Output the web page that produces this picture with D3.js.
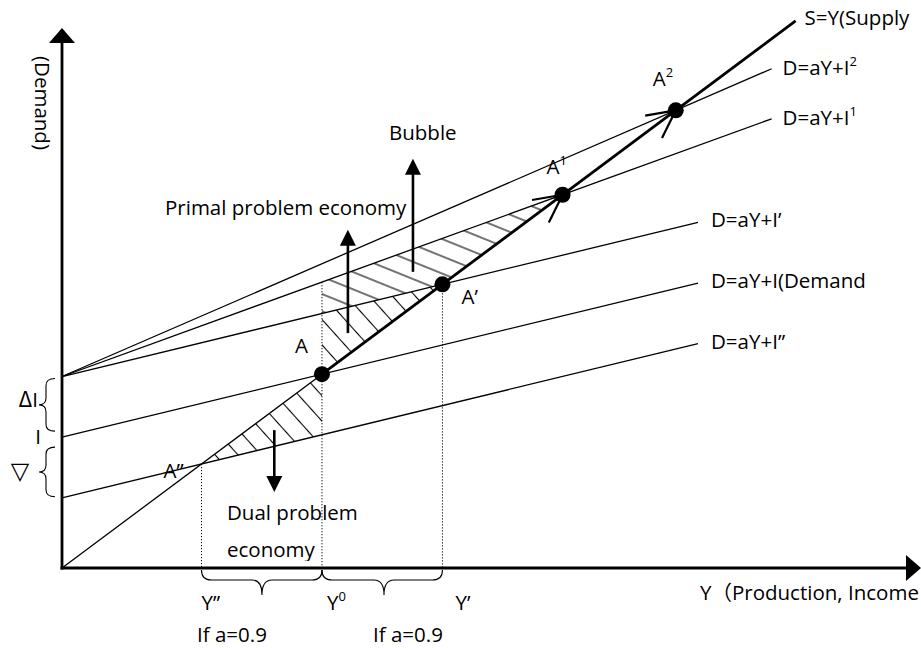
<!DOCTYPE html>
<html>
<head>
<meta charset="utf-8">
<script src="https://cdn.jsdelivr.net/npm/d3@7"></script>
<style>
  body { margin: 0; background: #fff; }
  text { font-family: "Open Sans", "Noto Sans CJK SC", sans-serif; font-size: 20.5px; fill: #000; }
</style>
</head>
<body>
<svg id="chart" width="921" height="648"></svg>
<script>
// demand lines D = a*Y + I, x (Y) and y (D) in the same units
var lineNames = ["D=aY+I\u201D", "D=aY+I(Demand", "D=aY+I\u2019", "D=aY+I", "D=aY+I"];
var lineSups = ["", "", "", "1", "2"];
var intercepts = [11, 20.5, 30, 30, 30];
var slopes = [0.325, 0.325, 0.325, 0.487, 0.5816];
var lineEnds = [74.3, 74.3, 74.3, 82.9, 82.9];
var supplyEnd = 85.7;

// equilibrium points (one per demand line)
var pointNames = ["A\u201D", "A", "A\u2019", "A", "A"];
var pointSups = ["", "", "", "1", "2"];
var pointDots = [false, true, true, true, true];

// income levels on the Y axis
var yLabels = ["Y\u201D", "Y", "Y\u2019"];
var ySups = ["", "0", ""];

// shift arrows (x, from, to)
var arrowX = [41.0, 33.4, 24.8];
var arrowFrom = [46.4, 36.8, 21.6];
var arrowTo = [64.1, 53.0, 11.9];

var svg = d3.select("#chart");
var x = d3.scaleLinear().domain([0, 100]).range([62, 918]);
var y = d3.scaleLinear().domain([0, 84.6]).range([568, 28]);

var eq = intercepts.map(function (I, i) { return I / (1 - slopes[i]); });
var Ypp = eq[0], Y0 = eq[1], Yp = eq[2], Y1 = eq[3];
function D(i, v) { return intercepts[i] + slopes[i] * v; }

// hatch patterns
var defs = svg.append("defs");
function hatch(id, angle, gap) {
    var p = defs.append("pattern").attr("id", id)
        .attr("patternUnits", "userSpaceOnUse")
        .attr("width", gap).attr("height", gap)
        .attr("patternTransform", "rotate(" + angle + ")");
    p.append("line")
        .attr("x1", gap / 2).attr("y1", -1).attr("x2", gap / 2).attr("y2", gap + 1)
        .attr("stroke", "#000").attr("stroke-width", 1.1);
}
hatch("steep", -42, 17);
hatch("flat", -68, 16);
defs.append("clipPath").attr("id", "cut")
    .append("rect").attr("x", 0).attr("y", 0).attr("width", 921).attr("height", 561);

var regions = [
    { fill: "flat", pts: [[Y0, D(3, Y0)], [Y1, Y1], [Yp, Yp], [Y0, D(2, Y0)]] },
    { fill: "steep", pts: [[Y0, D(2, Y0)], [Yp, Yp], [Y0, Y0]] },
    { fill: "steep", pts: [[Y0, Y0], [Y0, D(0, Y0)], [Ypp, Ypp]] }
];
svg.selectAll("polygon.hatch")
    .data(regions)
    .enter()
    .append("polygon")
    .attr("class", "hatch")
    .attr("points", function (d) { return d.pts.map(function (p) { return x(p[0]) + "," + y(p[1]); }).join(" "); })
    .attr("fill", function (d) { return "url(#" + d.fill + ")"; });

// dotted guides
var guides = [[Ypp, Ypp], [Y0, D(3, Y0)], [Yp, Yp]];
svg.selectAll("line.guide")
    .data(guides)
    .enter()
    .append("line")
    .attr("x1", function (d) { return x(d[0]); })
    .attr("x2", function (d) { return x(d[0]); })
    .attr("y1", function (d) { return y(d[1]); })
    .attr("y2", y(0))
    .attr("stroke", "#000").attr("stroke-width", 1).attr("stroke-dasharray", "1.2,1.8");

// demand lines
svg.selectAll("line.demand")
    .data(intercepts)
    .enter()
    .append("line")
    .attr("x1", x(0))
    .attr("y1", function (d) { return y(d); })
    .attr("x2", function (d, i) { return x(lineEnds[i]); })
    .attr("y2", function (d, i) { return y(D(i, lineEnds[i])); })
    .attr("stroke", "#000").attr("stroke-width", 1.3);

// supply line S=Y, thin below A, thick above
svg.append("line")
    .attr("x1", x(0)).attr("y1", y(0)).attr("x2", x(Y0)).attr("y2", y(Y0))
    .attr("stroke", "#000").attr("stroke-width", 1.3);
svg.append("line")
    .attr("x1", x(Y0)).attr("y1", y(Y0)).attr("x2", x(supplyEnd)).attr("y2", y(supplyEnd))
    .attr("stroke", "#000").attr("stroke-width", 2.8);

// open arrowheads on S at A1, A2
var ang = Math.atan2(y(10) - y(0), x(10) - x(0)) + Math.PI;
[Y1, eq[4]].forEach(function (v) {
    [-0.47, 0.47].forEach(function (s) {
        svg.append("line")
            .attr("x1", x(v)).attr("y1", y(v))
            .attr("x2", x(v) + 31 * Math.cos(ang + s))
            .attr("y2", y(v) + 31 * Math.sin(ang + s))
            .attr("stroke", "#000").attr("stroke-width", 2.2);
    });
});

// axes
svg.append("line").attr("x1", x(0)).attr("y1", y(0) + 1.5).attr("x2", x(0)).attr("y2", 40)
    .attr("stroke", "#000").attr("stroke-width", 2.8);
svg.append("polygon").attr("points", [[x(0), 28], [x(0) - 13, 43], [x(0) + 13, 43]].join(" "));
svg.append("line").attr("x1", x(0) - 1.5).attr("y1", y(0)).attr("x2", 908).attr("y2", y(0))
    .attr("stroke", "#000").attr("stroke-width", 2.8);
svg.append("polygon").attr("points", [[921, y(0)], [906, y(0) - 13], [906, y(0) + 13]].join(" "));

// equilibrium dots
svg.selectAll("circle.pt")
    .data(eq.filter(function (d, i) { return pointDots[i]; }))
    .enter()
    .append("circle")
    .attr("cx", function (d) { return x(d); })
    .attr("cy", function (d) { return y(d); })
    .attr("r", 8);

// shift arrows
arrowX.forEach(function (ax, i) {
    var px = x(ax), y0 = y(arrowFrom[i]), y1 = y(arrowTo[i]);
    var dir = y1 < y0 ? 1 : -1;
    svg.append("line").attr("x1", px).attr("x2", px).attr("y1", y0).attr("y2", y1 + dir * 14)
        .attr("stroke", "#000").attr("stroke-width", 2.6);
    svg.append("polygon").attr("points", [[px, y1], [px - 8, y1 + dir * 16], [px + 8, y1 + dir * 16]].join(" "));
});

// labels with optional superscript
function label(tx, ty, base, sup, anchor) {
    var t = svg.append("text").attr("x", tx).attr("y", ty).attr("text-anchor", anchor || "start");
    t.append("tspan").text(base);
    if (sup) t.append("tspan").attr("font-size", 13).attr("dy", -9).text(sup);
    return t;
}
lineNames.forEach(function (n, i) {
    var ex = lineEnds[i] < 80 ? 13 : 11;
    label(x(lineEnds[i]) + ex, y(D(i, lineEnds[i])) + (i > 2 ? 6 : 5), n, lineSups[i]);
});
label(x(supplyEnd) + 9, y(supplyEnd) + 4, "S=Y(Supply", "");

var pointOffsets = [[-38, 14], [-27, -21], [19, 20], [-16, -21], [-23, -24]];
pointNames.forEach(function (n, i) {
    label(x(eq[i]) + pointOffsets[i][0], y(eq[i]) + pointOffsets[i][1], n, pointSups[i]);
});

var yLabelShift = [0, 5, 13];
[Ypp, Y0, Yp].forEach(function (v, i) {
    label(x(v) + yLabelShift[i], 610, yLabels[i], ySups[i]);
});

// braces under the Y axis
function hBrace(x1, x2, xm, top) {
    var r = 10, y1 = top + 10, y2 = top + 25;
    return "M" + x1 + "," + top + " Q" + x1 + "," + y1 + " " + (x1 + r) + "," + y1 +
        " L" + (xm - r) + "," + y1 + " Q" + xm + "," + y1 + " " + xm + "," + y2 +
        " Q" + xm + "," + y1 + " " + (xm + r) + "," + y1 +
        " L" + (x2 - r) + "," + y1 + " Q" + x2 + "," + y1 + " " + x2 + "," + top;
}
svg.append("path").attr("d", hBrace(x(Ypp), x(Y0), 262, 570)).attr("fill", "none").attr("stroke", "#000").attr("stroke-width", 1.1);
svg.append("path").attr("d", hBrace(x(Y0), x(Yp), 384, 570)).attr("fill", "none").attr("stroke", "#000").attr("stroke-width", 1.1);
label(197, 642, "If a=0.9", "");
label(373, 642, "If a=0.9", "");

// braces on the D axis
function vBrace(top, bot) {
    var xr = 55, xv = 46, xt = 39, r = 7, ym = (top + bot) / 2;
    return "M" + xr + "," + top + " Q" + xv + "," + top + " " + xv + "," + (top + r) +
        " L" + xv + "," + (ym - r) + " Q" + xv + "," + ym + " " + xt + "," + ym +
        " Q" + xv + "," + ym + " " + xv + "," + (ym + r) +
        " L" + xv + "," + (bot - r) + " Q" + xv + "," + bot + " " + xr + "," + bot;
}
svg.append("path").attr("d", vBrace(y(intercepts[2]) + 2, y(intercepts[1]) - 6)).attr("fill", "none").attr("stroke", "#000").attr("stroke-width", 1.1);
svg.append("path").attr("d", vBrace(y(intercepts[1]) + 10, y(intercepts[0]) - 1)).attr("fill", "none").attr("stroke", "#000").attr("stroke-width", 1.1);
var dI = svg.append("text").attr("x", 38).attr("y", 407).attr("text-anchor", "end");
dI.append("tspan").style("font-family", "Noto Sans CJK SC").style("font-size", "21px").text("\u0394");
dI.append("tspan").text("I");
label(41, 444, "I", "", "end");
svg.append("text").attr("x", 20).attr("y", 479).attr("text-anchor", "middle")
    .style("font-family", "DejaVu Sans").style("font-size", "24px").text("\u25BD");

// annotations
label(389, 140, "Bubble", "");
label(165, 215, "Primal problem economy", "");
label(227, 520, "Dual problem", "");
label(227, 557, "economy", "").attr("clip-path", "url(#cut)");
label(700, 600, "Y\uFF08Production, Income", "");
svg.append("text").attr("transform", "translate(35,56) rotate(90)").text("(Demand)");
</script>
</body>
</html>
